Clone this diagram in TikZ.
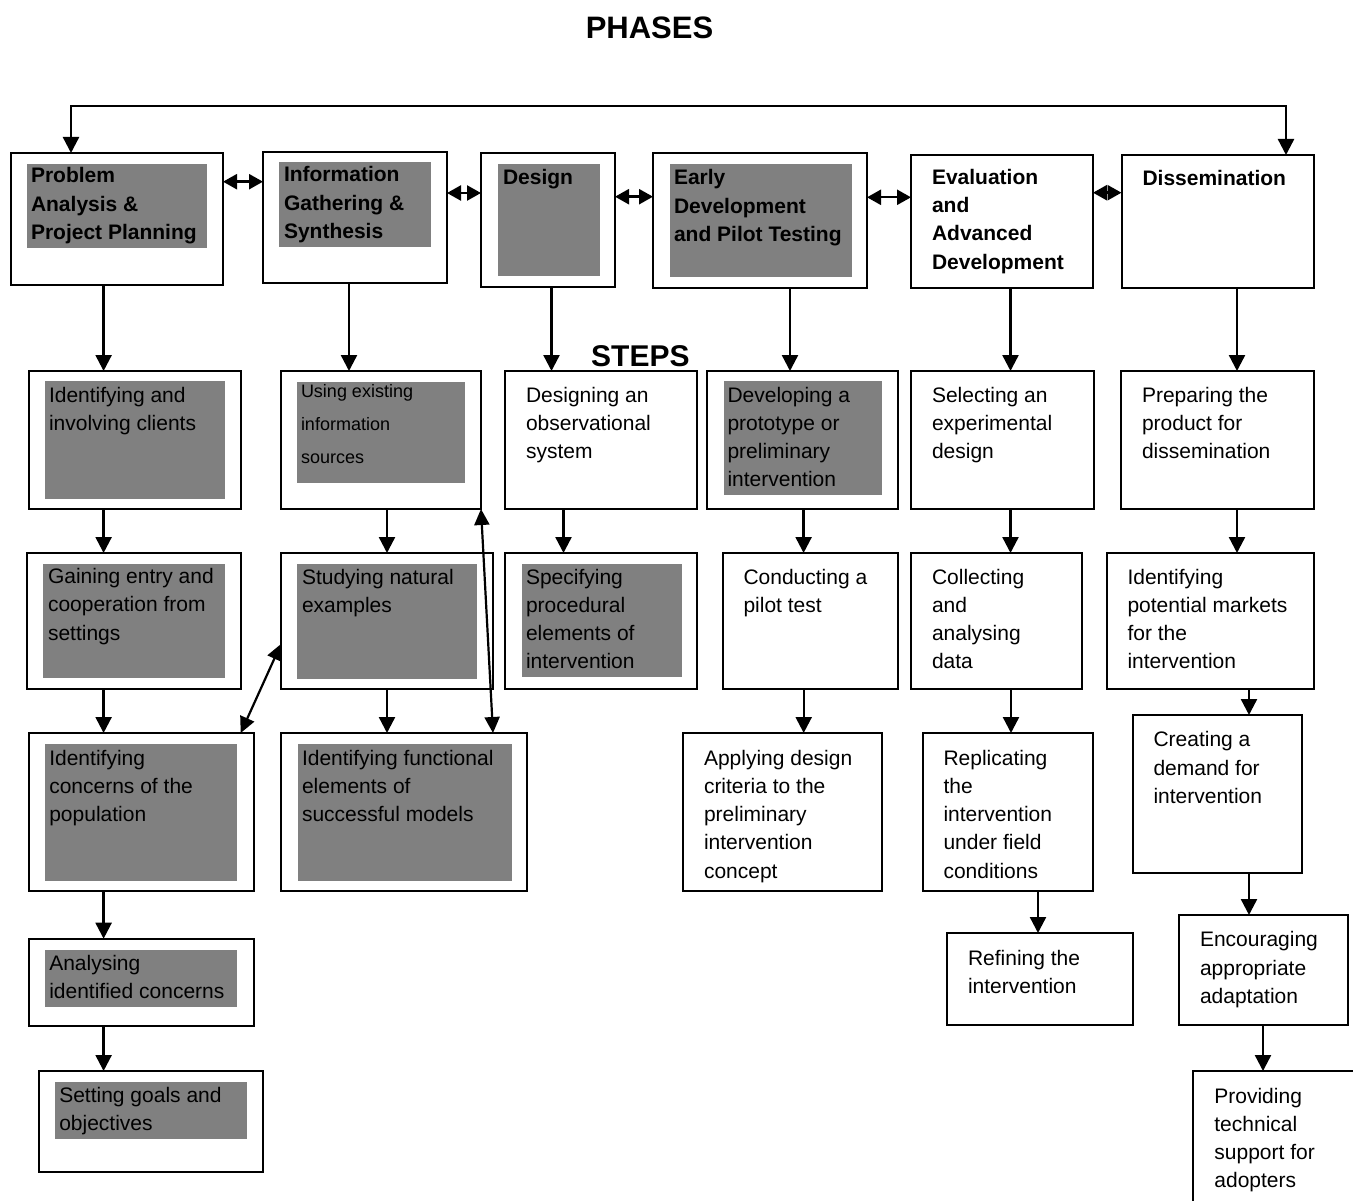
\documentclass[tikz,border=0pt]{standalone}
\usepackage{fontspec}
\setmainfont{Liberation Sans}
\usetikzlibrary{arrows.meta}

\newcommand\bodyfs{\fontsize{21}{28.3}\selectfont}
\newcommand\boldfs{\fontsize{21}{28.3}\selectfont\bfseries}
\newcommand\smallfs{\fontsize{18}{33.3}\selectfont}

\tikzset{
  obox/.style={draw, line width=2pt, anchor=north west, inner sep=0pt, outer sep=0pt},
  gbox/.style={fill=gray, anchor=north west, inner sep=0pt, outer sep=0pt},
  txt/.style={anchor=north west, inner sep=0pt, outer sep=0pt, align=left, font=\bodyfs},
  arr/.style={line width=2.4pt, -{Triangle[length=16pt,width=16pt]}},
  arrboth/.style={line width=2.2pt, {Triangle[length=16pt,width=15pt]}-{Triangle[length=16pt,width=15pt]}},
  dbl/.style={line width=2.4pt, {Triangle[length=14pt,width=15pt]}-{Triangle[length=14pt,width=15pt]}},
}

% box: [style]{x1}{y1}{x2}{y2}{name}
\newcommand\Bx[6][obox]{\node[#1, minimum width={(#4-#2)*1pt}, minimum height={(#5-#3)*1pt}] (#6) at (#2,#3) {};}
% text: {name}{x}{first baseline}{text}
\newcommand\Tx[4]{\node[txt] (#1) at (#2,{#3-19.81}) {\strut #4};}
\newcommand\Tb[4]{\node[txt, font=\boldfs] (#1) at (#2,{#3-19.81}) {\strut #4};}
\newcommand\Ts[4]{\node[txt, font=\smallfs] (#1) at (#2,{#3-23.31}) {\strut #4};}

\begin{document}
\begin{tikzpicture}[x=1pt, y=-1pt]
\useasboundingbox (0,0) rectangle (1353,1201);
\clip (0,0) rectangle (1353,1201);
\fill[white] (0,0) rectangle (1353,1201);

% titles
\node[anchor=base, inner sep=0pt, font=\fontsize{31}{36}\selectfont\bfseries] (phases) at (649.5,38.3) {PHASES};
\node[anchor=base west, inner sep=0pt, font=\fontsize{30}{36}\selectfont\bfseries] (steps) at (591,366) {STEPS};

% ---------- phase boxes ----------
\Bx{11}{153}{223}{285}{p1}
\Bx[gbox]{27}{164}{207}{248.5}{g1}
\Tb{tp1}{31}{183}{Problem\\Analysis \&\\Project Planning}

\Bx{263}{152}{447}{283}{p2}
\Bx[gbox]{279}{162}{431}{247.5}{g2}
\Tb{tp2}{284}{182}{Information\\Gathering \&\\Synthesis}

\Bx{481}{153}{615}{287}{p3}
\Bx[gbox]{498}{164}{600}{276.5}{g3}
\Tb{tp3}{503}{185}{Design}

\Bx{653}{153}{867}{288}{p4}
\Bx[gbox]{670}{164}{852}{277.3}{g4}
\Tb{tp4}{674}{185}{Early\\Development\\and Pilot Testing}

\Bx{911}{155}{1093}{288}{p5}
\Tb{tp5}{932}{184.3}{Evaluation\\and\\Advanced\\Development}

\Bx{1121.5}{155}{1313.5}{288}{p6}
\Tb{tp6}{1142.5}{185.7}{Dissemination}

% top loop
\coordinate (loopL) at (71,106);
\coordinate (loopR) at (1286,106);
\draw[arr] (loopR) -- (loopL) -- (loopL |- p1.north);
\draw[arr] (loopL) -- (loopR) -- (loopR |- p6.north);

% phase double arrows
\draw[dbl] (p1.east |- 0,181.7) -- (p2.west |- 0,181.7);
\draw[dbl] (p2.east |- 0,193) -- (p3.west |- 0,193);
\draw[dbl] (p3.east |- 0,196.7) -- (p4.west |- 0,196.7);
\draw[dbl] (p4.east |- 0,197.3) -- (p5.west |- 0,197.3);
\draw[dbl] (p5.east |- 0,192.7) -- (p6.west |- 0,192.7);

% ---------- row 1 ----------
\Bx{28.5}{371}{241}{509}{s11}
\Bx[gbox]{45}{381}{225}{498.5}{g11}
\Tx{t11}{49}{402}{Identifying and\\involving clients}

\Bx{281}{371}{481}{509}{s21}
\Bx[gbox]{297}{382}{465}{482.5}{g21}
\Ts{t21}{301}{397}{Using existing\\information\\sources}

\Bx{505}{371}{697}{509}{s31}
\Tx{t31}{526}{402}{Designing an\\observational\\system}

\Bx{707}{371}{897.5}{509}{s41}
\Bx[gbox]{724}{381}{882}{494.5}{g41}
\Tx{t41}{727.5}{402}{Developing a\\prototype or\\preliminary\\intervention}

\Bx{911}{371}{1093.5}{509}{s51}
\Tx{t51}{932}{402}{Selecting an\\experimental\\design}

\Bx{1121}{371}{1313.5}{509}{s61}
\Tx{t61}{1142}{402}{Preparing the\\product for\\dissemination}

% phase -> row 1
\draw[arr] (103.6,0 |- p1.south) -- (103.6,0 |- s11.north);
\draw[arr] (349,0 |- p2.south) -- (349,0 |- s21.north);
\draw[arr] (551.5,0 |- p3.south) -- (551.5,0 |- s31.north);
\draw[arr] (790,0 |- p4.south) -- (790,0 |- s41.north);
\draw[arr] (1010.5,0 |- p5.south) -- (1010.5,0 |- s51.north);
\draw[arr] (1237,0 |- p6.south) -- (1237,0 |- s61.north);

% ---------- row 2 ----------
\Bx{27}{553}{241}{689}{s12}
\Bx[gbox]{43}{564}{225}{678}{g12}
\Tx{t12}{48}{583.5}{Gaining entry and\\cooperation from\\settings}

\Bx{281}{553}{493}{689}{s22}
\Bx[gbox]{297}{564}{477}{678.5}{g22}
\Tx{t22}{302}{584}{Studying natural\\examples}

\Bx{505}{553}{697}{689}{s32}
\Bx[gbox]{522}{564}{682}{677}{g32}
\Tx{t32}{526}{584}{Specifying\\procedural\\elements of\\intervention}

\Bx{723}{553}{897.5}{689}{s42}
\Tx{t42}{743.5}{584}{Conducting a\\pilot test}

\Bx{911}{553}{1081.5}{689}{s52}
\Tx{t52}{932}{584}{Collecting\\and\\analysing\\data}

\Bx{1107}{553}{1313.5}{689}{s62}
\Tx{t62}{1127.5}{584}{Identifying\\potential markets\\for the\\intervention}

% row 1 -> row 2
\draw[arr] (103.6,0 |- s11.south) -- (103.6,0 |- s12.north);
\draw[arr] (387,0 |- s21.south) -- (387,0 |- s22.north);
\draw[arr] (563.5,0 |- s31.south) -- (563.5,0 |- s32.north);
\draw[arr] (803.6,0 |- s41.south) -- (803.6,0 |- s42.north);
\draw[arr] (1010.5,0 |- s51.south) -- (1010.5,0 |- s52.north);
\draw[arr] (1237,0 |- s61.south) -- (1237,0 |- s62.north);

% ---------- row 3 ----------
\Bx{28.6}{733}{253.6}{891}{s13}
\Bx[gbox]{45}{744}{237}{881}{g13}
\Tx{t13}{49.3}{765}{Identifying\\concerns of the\\population}

\Bx{281}{733}{527}{891}{s23}
\Bx[gbox]{298}{744}{512}{881}{g23}
\Tx{t23}{302}{765}{Identifying functional\\elements of\\successful models}

\Bx{683}{733}{881.7}{891}{s43}
\Tx{t43}{704}{765}{Applying design\\criteria to the\\preliminary\\intervention\\concept}

\Bx{923}{733}{1093}{891}{s53}
\Tx{t53}{943.5}{765}{Replicating\\the\\intervention\\under field\\conditions}

\Bx{1133.4}{715}{1301.5}{873}{s63}
\Tx{t63}{1153.5}{746.7}{Creating a\\demand for\\intervention}

% row 2 -> row 3
\draw[arr] (103.6,0 |- s12.south) -- (103.6,0 |- s13.north);
\draw[arr] (387,0 |- s22.south) -- (387,0 |- s23.north);
\draw[arr] (803.7,0 |- s42.south) -- (803.7,0 |- s43.north);
\draw[arr] (1011,0 |- s52.south) -- (1011,0 |- s53.north);
\draw[arr] (1249,0 |- s62.south) -- (1249,0 |- s63.north);

% cross links
\draw[arrboth] (s22.west |- 0,644) -- (240.7,0 |- s13.north);
\draw[arrboth] (481,0 |- s21.south) -- (493,0 |- s23.north);

% ---------- row 4 ----------
\Bx{28.6}{938.7}{253.6}{1025.7}{s14}
\Bx[gbox]{45}{950}{237}{1006.7}{g14}
\Tx{t14}{49.3}{970}{Analysing\\identified concerns}

\Bx{947}{933}{1133.4}{1025}{s54}
\Tx{t54}{968}{965}{Refining the\\intervention}

\Bx{1179}{915}{1348}{1025}{s64}
\Tx{t64}{1200}{946.7}{Encouraging\\appropriate\\adaptation}

% row 3 -> row 4
\draw[arr] (103.6,0 |- s13.south) -- (103.6,0 |- s14.north);
\draw[arr] (1038,0 |- s53.south) -- (1038,0 |- s54.north);
\draw[arr] (1249,0 |- s63.south) -- (1249,0 |- s64.north);

% ---------- row 5 ----------
\Bx{38.6}{1071}{263}{1171.7}{s15}
\Bx[gbox]{55}{1082}{247}{1138.7}{g15}
\Tx{t15}{59.3}{1102}{Setting goals and\\objectives}

\Bx{1192.6}{1071}{1370}{1220}{s65}
\Tx{t65}{1214.4}{1103}{Providing\\technical\\support for\\adopters}

% row 4 -> row 5
\draw[arr] (103.6,0 |- s14.south) -- (103.6,0 |- s15.north);
\draw[arr] (1263,0 |- s64.south) -- (1263,0 |- s65.north);
\end{tikzpicture}
\end{document}
